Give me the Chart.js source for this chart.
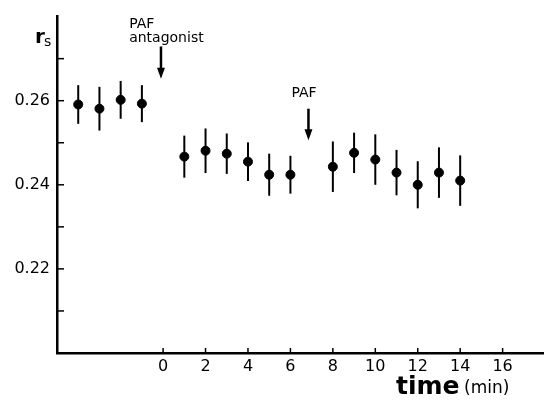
<!DOCTYPE html>
<html>
<head>
<meta charset="utf-8">
<script src="https://cdn.jsdelivr.net/npm/chart.js@4"></script>
<style>
  html, body { margin: 0; padding: 0; background: #fff; }
  #wrap { width: 544px; height: 401px; position: relative; }
</style>
</head>
<body>
<div id="wrap"><canvas id="chart"></canvas></div>
<script>
// time (min) and r_s values
const times = [-4, -3, -2, -1, 1, 2, 3, 4, 5, 6, 8, 9, 10, 11, 12, 13, 14];
const rsValues = [0.2591, 0.2581, 0.2602, 0.2593, 0.2467, 0.2481, 0.2474, 0.2455, 0.2424, 0.2424,
                  0.2443, 0.2476, 0.2460, 0.2429, 0.2400, 0.2429, 0.2410];
const rsErrors = [0.0046, 0.0052, 0.0045, 0.0044, 0.0050, 0.0053, 0.0048, 0.0046, 0.0050, 0.0045,
                  0.0060, 0.0048, 0.0060, 0.0054, 0.0056, 0.0060, 0.0060];

const xTicks = [0, 2, 4, 6, 8, 10, 12, 14, 16];
const yTicks = [0.21, 0.22, 0.23, 0.24, 0.25, 0.26, 0.27];
const yLabelled = [0.22, 0.24, 0.26];

// arrows: x, top/bottom of shaft (data units), label lines
const arrows = [
  { x: -0.1, top: 0.2729, bottom: 0.2652, label: ['PAF', 'antagonist'], labelX: -1.6, labelY: 0.2772 },
  { x: 6.85, top: 0.2581, bottom: 0.2506, label: ['PAF'], labelX: 6.05, labelY: 0.2608 }
];

const FONT = '"DejaVu Sans", sans-serif';

const decorations = {
  id: 'decorations',
  afterDatasetsDraw(chart) {
    const ctx = chart.ctx;
    const xs = chart.scales.x, ys = chart.scales.y;
    ctx.save();
    ctx.strokeStyle = '#000';
    ctx.fillStyle = '#000';

    // error bars
    ctx.lineWidth = 2;
    times.forEach((t, i) => {
      const px = xs.getPixelForValue(t);
      ctx.beginPath();
      ctx.moveTo(px, ys.getPixelForValue(rsValues[i] + rsErrors[i]));
      ctx.lineTo(px, ys.getPixelForValue(rsValues[i] - rsErrors[i]));
      ctx.stroke();
    });

    // inward tick marks
    ctx.lineWidth = 1.5;
    yTicks.forEach(v => {
      const py = ys.getPixelForValue(v);
      ctx.beginPath();
      ctx.moveTo(xs.left, py);
      ctx.lineTo(xs.left + 7, py);
      ctx.stroke();
    });
    xTicks.forEach(v => {
      const px = xs.getPixelForValue(v);
      ctx.beginPath();
      ctx.moveTo(px, ys.bottom);
      ctx.lineTo(px, ys.bottom - 5);
      ctx.stroke();
    });

    // arrows + labels
    arrows.forEach(a => {
      const px = xs.getPixelForValue(a.x);
      const top = ys.getPixelForValue(a.top);
      const bot = ys.getPixelForValue(a.bottom);
      ctx.lineWidth = 2.5;
      ctx.beginPath();
      ctx.moveTo(px, top);
      ctx.lineTo(px, bot - 8);
      ctx.stroke();
      ctx.beginPath();
      ctx.moveTo(px - 4, bot - 11);
      ctx.lineTo(px + 4, bot - 11);
      ctx.lineTo(px, bot);
      ctx.closePath();
      ctx.fill();

      ctx.font = '14px ' + FONT;
      ctx.textAlign = 'left';
      ctx.textBaseline = 'alphabetic';
      const lx = xs.getPixelForValue(a.labelX);
      let ly = ys.getPixelForValue(a.labelY);
      a.label.forEach(line => {
        ctx.fillText(line, lx, ly);
        ly += 14;
      });
    });

    // y axis title r_s
    ctx.textBaseline = 'alphabetic';
    ctx.font = 'bold 20px ' + FONT;
    ctx.fillText('r', 35, 43);
    ctx.font = '14px ' + FONT;
    ctx.fillText('s', 44, 46);

    // x axis title
    ctx.font = 'bold 25px ' + FONT;
    ctx.fillText('time', 396, 394);
    ctx.font = '17px ' + FONT;
    ctx.fillText('(min)', 464, 393);
    ctx.restore();
  }
};

new Chart(document.getElementById('chart'), {
  type: 'scatter',
  data: {
    datasets: [{
      data: times.map((t, i) => ({ x: t, y: rsValues[i] })),
      backgroundColor: '#000',
      borderColor: '#000',
      pointRadius: 4.5,
      pointHoverRadius: 4.5
    }]
  },
  options: {
    responsive: true,
    maintainAspectRatio: false,
    animation: false,
    layout: { autoPadding: false, padding: { top: 15, right: 0, left: 0, bottom: 0 } },
    plugins: { legend: { display: false }, tooltip: { enabled: false } },
    scales: {
      x: {
        type: 'linear',
        min: -5,
        max: 17.95,
        afterBuildTicks: s => { s.ticks = xTicks.map(v => ({ value: v })); },
        afterFit: s => { s.height = 48; s.paddingLeft = 0; s.paddingRight = 0; },
        grid: { drawOnChartArea: false, drawTicks: false },
        border: { display: true, width: 2.5, color: '#000' },
        ticks: { color: '#000', font: { family: FONT, size: 16 }, padding: 4, maxRotation: 0 }
      },
      y: {
        type: 'linear',
        min: 0.20,
        max: 0.28,
        afterBuildTicks: s => { s.ticks = yTicks.map(v => ({ value: v })); },
        afterFit: s => { s.width = 57; },
        grid: { drawOnChartArea: false, drawTicks: false },
        border: { display: true, width: 2.5, color: '#000' },
        ticks: {
          color: '#000',
          font: { family: FONT, size: 16 },
          padding: 7,
          callback: v => yLabelled.some(l => Math.abs(l - v) < 1e-6) ? v.toFixed(2) : ''
        }
      }
    }
  },
  plugins: [decorations]
});
</script>
</body>
</html>
